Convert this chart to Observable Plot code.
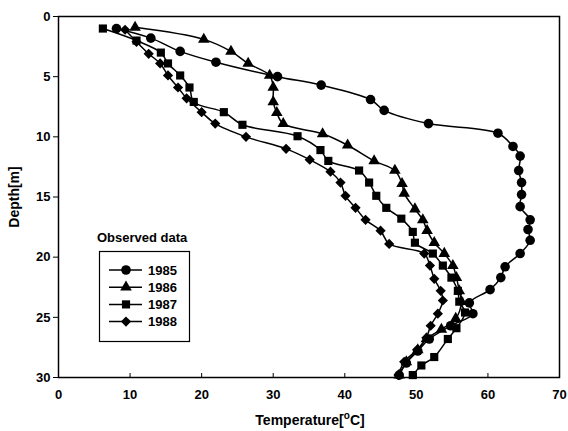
<!DOCTYPE html>
<html>
<head>
<meta charset="utf-8">
<script src="https://cdn.jsdelivr.net/npm/d3@7"></script>
<script src="https://cdn.jsdelivr.net/npm/@observablehq/plot@0.6"></script>
<style>
  html, body { margin: 0; padding: 0; background: #fff; }
  #chart { width: 568px; height: 431px; }
</style>
</head>
<body>
<div id="chart"></div>
<script>
// ---- data ----
const years = ["1985", "1986", "1987", "1988"];
const symbols = ["circle", "triangle", "square", "diamond2"];

const depth1985 = [1, 1.8, 2.9, 3.8, 5, 5.7, 6.9, 7.8, 8.9, 9.7, 10.8, 11.6, 12.8, 13.8, 14.8, 15.8, 16.9, 17.7, 18.6, 19.7, 20.8, 21.7, 22.7, 23.8, 24.7, 25.7, 26.8, 27.8, 28.8, 29.8];
const temp1985  = [8.1, 12.9, 17.0, 22.0, 30.6, 36.7, 43.6, 45.5, 51.7, 61.4, 63.5, 64.5, 64.3, 64.7, 64.7, 64.5, 65.9, 65.6, 65.9, 64.5, 62.4, 61.8, 60.3, 57.4, 57.9, 54.8, 51.8, 50.2, 48.6, 47.6];

const depth1986 = [0.9, 1.9, 2.9, 3.9, 4.9, 5.9, 7.1, 8.0, 8.9, 9.75, 10.7, 12.0, 12.8, 13.9, 14.7, 16.0, 16.9, 17.8, 18.8, 19.7, 20.7, 21.7, 22.8, 23.7, 25.1, 26.0, 26.8, 27.7, 28.7, 29.8];
const temp1986  = [10.7, 20.3, 24.1, 26.5, 29.5, 30.0, 30.0, 30.5, 31.4, 36.9, 40.4, 44.1, 47.0, 48.0, 48.3, 49.8, 50.9, 51.5, 52.5, 53.9, 55.1, 55.6, 56.0, 56.3, 55.5, 53.5, 51.4, 50.2, 48.6, 47.6];

const depth1987 = [1, 2, 3, 3.9, 4.9, 5.9, 7.1, 7.95, 9, 9.95, 11.1, 12, 12.8, 13.8, 14.9, 15.9, 16.8, 17.9, 18.8, 19.7, 20.7, 21.7, 22.8, 23.7, 24.6, 25.9, 26.8, 28.3, 29.0, 29.8];
const temp1987  = [6.2, 10.9, 14.3, 15.3, 17.0, 18.3, 18.9, 23.1, 25.7, 33.4, 36.6, 37.7, 42.0, 43.4, 44.4, 45.8, 47.9, 49.5, 49.8, 52.3, 53.7, 54.9, 55.8, 56.0, 56.8, 55.6, 54.4, 52.5, 50.7, 49.5];

const depth1988 = [1.1, 2.1, 3.1, 3.9, 4.9, 5.9, 6.8, 7.95, 8.9, 10, 11, 11.9, 12.9, 13.8, 14.9, 15.9, 16.9, 17.8, 18.9, 19.7, 20.7, 21.8, 22.8, 23.6, 24.7, 25.7, 26.7, 27.7, 28.7, 29.8];
const temp1988  = [9.3, 10.9, 12.6, 14.2, 15.3, 16.7, 17.9, 20.0, 21.9, 26.2, 31.8, 35.1, 38.0, 39.4, 40.1, 41.5, 42.9, 45.0, 46.2, 51.1, 51.9, 52.5, 53.4, 53.7, 53.0, 52.0, 51.4, 50.1, 48.3, 47.5];

const xTicks = [0, 10, 20, 30, 40, 50, 60, 70];
const yTicks = [0, 5, 10, 15, 20, 25, 30];
const xLabel = ["Temperature[", "o", "C]"];
const yLabel = "Depth[m]";
const legendTitle = "Observed data";

// ---- build table ----
const depths = [depth1985, depth1986, depth1987, depth1988];
const temps = [temp1985, temp1986, temp1987, temp1988];
const series = years.map((y, i) => depths[i].map((d, j) => ({year: y, depth: d, temp: temps[i][j]})));
const symbolR = [4.8, 4.3, 4.6, 4.6];

const font = "'Liberation Sans', Arial, sans-serif";
const marks = [];
series.forEach((s) => {
  marks.push(Plot.line(s, {x: "temp", y: "depth", stroke: "black", strokeWidth: 1.5, curve: "catmull-rom"}));
});
series.forEach((s, i) => {
  marks.push(Plot.dot(s, {x: "temp", y: "depth", symbol: () => symbols[i], fill: "black", stroke: "none", r: symbolR[i]}));
});

const chart = Plot.plot({
  width: 568,
  height: 431,
  marginTop: 16,
  marginLeft: 58,
  marginRight: 9,
  marginBottom: 54,
  style: {fontFamily: font, fontSize: "13px", fontWeight: "bold", color: "black", background: "white"},
  x: {domain: [0, 70]},
  y: {domain: [0, 30], reverse: true},
  symbol: {type: "identity"},
  marks: [
    Plot.axisX({ticks: xTicks, tickSize: -4, tickPadding: 16, label: null, strokeWidth: 1}),
    Plot.axisY({ticks: yTicks, tickSize: 5, tickPadding: 3, label: null, strokeWidth: 1}),
    ...marks,
    Plot.frame({stroke: "black", strokeWidth: 1.5})
  ]
});
document.getElementById("chart").appendChild(chart);

// ---- axis titles and legend ----
const svg = d3.select(chart);
const xt = svg.append("text")
  .attr("x", 310).attr("y", 425)
  .attr("text-anchor", "middle")
  .style("font-family", font).style("font-size", "14px").style("font-weight", "bold");
xt.append("tspan").text(xLabel[0]);
xt.append("tspan").attr("dy", -6).style("font-size", "10px").text(xLabel[1]);
xt.append("tspan").attr("dy", 6).text(xLabel[2]);

svg.append("text")
  .attr("transform", "translate(19,197) rotate(-90)")
  .attr("text-anchor", "middle")
  .style("font-family", font).style("font-size", "14px").style("font-weight", "bold")
  .text(yLabel);

const lg = svg.append("g").attr("text-anchor", "start").style("font-family", font).style("font-size", "13px");
lg.append("text").attr("x", 97).attr("y", 242).attr("text-anchor", "start").text(legendTitle);
lg.append("rect").attr("x", 99.5).attr("y", 251.5).attr("width", 90).attr("height", 90)
  .attr("fill", "none").attr("stroke", "black").attr("stroke-width", 1.2);
const d3sym = {circle: d3.symbolCircle, triangle: d3.symbolTriangle, square: d3.symbolSquare, diamond2: d3.symbolDiamond2 || d3.symbolDiamond};
years.forEach((y, i) => {
  const cy = 270 + i * 17.2;
  lg.append("line").attr("x1", 109).attr("x2", 142).attr("y1", cy).attr("y2", cy).attr("stroke", "black").attr("stroke-width", 1.5);
  lg.append("path").attr("transform", `translate(126,${cy})`).attr("d", d3.symbol(d3sym[symbols[i]], Math.PI * symbolR[i] * symbolR[i])()).attr("fill", "black");
  lg.append("text").attr("x", 148).attr("y", cy + 4.5).attr("text-anchor", "start").text(y);
});
</script>
</body>
</html>
